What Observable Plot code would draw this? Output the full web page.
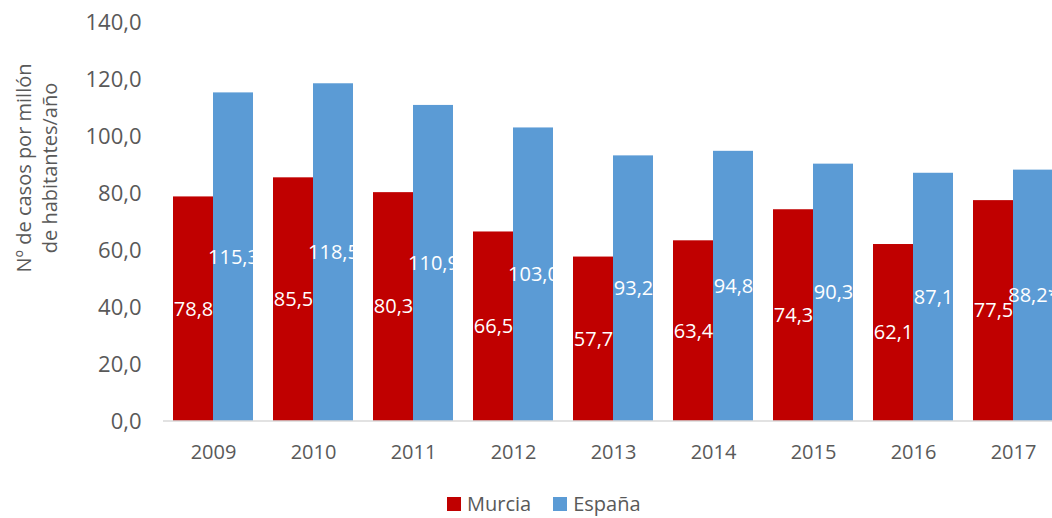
<!DOCTYPE html>
<html><head><meta charset="utf-8">
<script src="https://cdn.jsdelivr.net/npm/d3@7"></script>
<script src="https://cdn.jsdelivr.net/npm/@observablehq/plot@0.6"></script>
<style>
body{margin:0;background:#fff;font-family:"Open Sans",sans-serif;overflow:hidden}
#chart{position:relative;width:1052px;height:518px;overflow:hidden}
#legend{position:absolute;top:490px;left:447px;display:flex;align-items:center;font-size:20px;color:#595959;line-height:28px}
.sw{width:14px;height:14px;display:inline-block;margin-right:6px}
.item{display:flex;align-items:center;margin-right:22px}
</style></head><body><div id="chart"></div>
<script>
const years = ["2009","2010","2011","2012","2013","2014","2015","2016","2017"];
const murcia = [78.8,85.5,80.3,66.5,57.7,63.4,74.3,62.1,77.5];
const espana = [115.3,118.5,110.9,103.0,93.2,94.8,90.3,87.1,88.2];
const espanaNotes = ["","","","","","","","","*"];
const series = ["Murcia","España"];
const colors = ["#C00000","#5B9BD5"];
const yTicks = [0,20,40,60,80,100,120,140];
const yLabelLines = ["Nº de casos por millón","de habitantes/año"];

const fmt = v => v.toFixed(1).replace(".", ",");
const rows = years.flatMap((yr, i) => [
  {year: yr, series: series[0], value: murcia[i], label: fmt(murcia[i])},
  {year: yr, series: series[1], value: espana[i], label: fmt(espana[i]) + espanaNotes[i]}
]);

const plot = Plot.plot({
  width: 1052, height: 485,
  marginLeft: 163, marginRight: -11, marginTop: 22, marginBottom: 64,
  style: {fontFamily: "'Open Sans', sans-serif", fontSize: "20px", color: "#595959", background: "white"},
  fx: {domain: years, paddingInner: 0.2, paddingOuter: 0.1, label: null},
  x: {domain: series, axis: null, padding: 0},
  y: {domain: [0, 140], label: null},
  color: {domain: series, range: colors},
  marks: [
    Plot.barY(rows, {fx: "year", x: "series", y: "value", fill: "series"}),
    Plot.text(rows, {fx: "year", x: "series", y: d => d.value / 2, text: "label", fill: "white", fontSize: 20}),
    Plot.axisY(yTicks, {tickFormat: fmt, tickSize: 0, tickPadding: 32, fontSize: 22, fill: "#595959", label: null}),
    Plot.axisFx({anchor: "bottom", tickSize: 0, tickPadding: 23, fontSize: 20, fill: "#595959", label: null})
  ]
});

const svg = d3.select(plot);
const y0 = plot.scale("y").apply(0);
svg.append("line").attr("x1", 163).attr("x2", 1052).attr("y1", y0).attr("y2", y0)
  .attr("stroke", "#d9d9d9").attr("stroke-width", 1.5);
const yl = svg.append("text").attr("transform", "translate(0,168) rotate(-90)")
  .attr("text-anchor", "middle").attr("fill", "#595959").style("font-size", "20px");
yl.append("tspan").attr("x", 0).attr("y", 31).text(yLabelLines[0]);
yl.append("tspan").attr("x", 0).attr("y", 57).text(yLabelLines[1]);

const chart = document.getElementById("chart");
chart.appendChild(plot);
const legend = document.createElement("div");
legend.id = "legend";
series.forEach((s, i) => {
  const it = document.createElement("div"); it.className = "item";
  const sw = document.createElement("span"); sw.className = "sw"; sw.style.background = colors[i];
  const tx = document.createElement("span"); tx.textContent = s;
  it.appendChild(sw); it.appendChild(tx); legend.appendChild(it);
});
chart.appendChild(legend);
</script></body></html>
